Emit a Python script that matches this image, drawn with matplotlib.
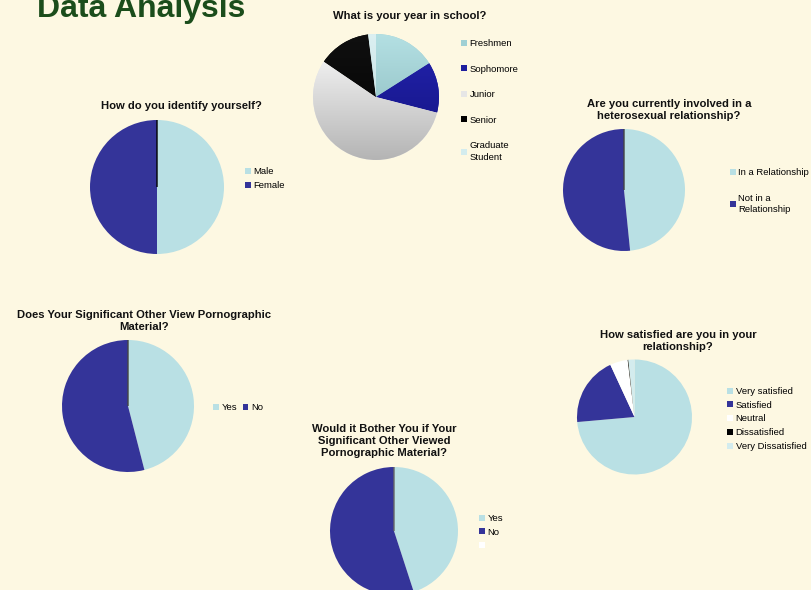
import matplotlib
matplotlib.use("Agg")
import matplotlib.pyplot as plt
import numpy as np
from matplotlib.patches import Patch
from matplotlib.colors import LinearSegmentedColormap

W, H = 811, 590
BG = "#fdf8e2"
TEAL = "#b9e0e4"
NAVY = "#343499"

# ---- data ----
gender_labels = ["Male", "Female"]
gender_values = [50, 50, 0]

year_labels = ["Freshmen", "Sophomore", "Junior", "Senior", "Graduate\nStudent"]
year_values = [16, 13, 55.5, 13.5, 2]

rel_labels = ["In a Relationship", "Not in a\nRelationship"]
rel_values = [48.4, 51.6, 0]

view_labels = ["Yes", "No"]
view_values = [46, 54, 0]

bother_labels = ["Yes", "No", ""]
bother_values = [45, 55, 0]

sat_labels = ["Very satisfied", "Satisfied", "Neutral", "Dissatisfied", "Very Dissatisfied"]
sat_values = [73.6, 19.5, 5.0, 0.2, 1.7]

# year-pie shading (top colour, bottom colour)
year_light = ["#b4e0e3", "#2424b0", "#ffffff", "#101010", "#dcf0f2"]
year_dark = ["#84b4b8", "#12127e", "#b4b4b4", "#000000", "#b8d8dc"]
year_legend_colors = ["#9fd0d4", "#1e1e9e", "#e6e6e6", "#000000", "#d3ecee"]

fig = plt.figure(figsize=(W / 100, H / 100), dpi=100)
fig.patch.set_facecolor(BG)
plt.rcParams['font.family'] = ['Liberation Sans', 'DejaVu Sans']


def fx(px):
    return px / W


def fy(py):
    return 1 - py / H


def add_pie(cx, cy, r, values, colors, edge=None):
    ax = fig.add_axes([fx(cx - r), fy(cy + r), 2 * r / W, 2 * r / H])
    wedges, _ = ax.pie(values, colors=colors, startangle=90, counterclock=False,
                       radius=1, normalize=True,
                       wedgeprops=dict(linewidth=0))
    if edge is not None:
        w = wedges[-1]
        w.set_edgecolor(edge)
        w.set_linewidth(1.0)
    ax.set_xlim(-1, 1)
    ax.set_ylim(-1, 1)
    ax.set_aspect('equal')
    ax.axis('off')
    return ax, wedges


def title(x, y, s):
    fig.text(fx(x), fy(y), s, ha='center', va='center', fontsize=8.1,
             fontweight='bold', color='#111111', linespacing=1.3)


def legend(x, y, labels, colors, spacing=0.9, ncol=1):
    handles = [Patch(facecolor=c, edgecolor='none') for c in colors]
    leg = fig.legend(handles, labels, loc='upper left', bbox_to_anchor=(fx(x), fy(y)),
                     frameon=False, fontsize=6.8, handlelength=0.6, handleheight=0.6,
                     handletextpad=0.3, labelspacing=spacing, ncol=ncol,
                     columnspacing=0.6, borderpad=0, borderaxespad=0)
    for t in leg.get_texts():
        t.set_linespacing(1.35)
    return leg


# Title
fig.text(fx(37), fy(17), "Data Analysis", ha='left', va='baseline',
         fontsize=23, fontweight='bold', color='#1b4d1b')

# Gender
add_pie(157, 187, 67, gender_values, [TEAL, NAVY, "#000000"], edge="#000000")
title(181, 106, "How do you identify yourself?")
legend(245, 167, gender_labels, [TEAL, NAVY], spacing=0.55)

# Year in school (shaded)
ax_y, year_wedges = add_pie(376, 97, 63, year_values, year_legend_colors)
grad = np.linspace(0, 1, 256).reshape(-1, 1)
for w, c1, c2 in zip(year_wedges, year_light, year_dark):
    cmap = LinearSegmentedColormap.from_list("g", [c1, c2])
    im = ax_y.imshow(grad, extent=[-1, 1, 1, -1], cmap=cmap, aspect='auto',
                     origin='lower', zorder=w.get_zorder() + 0.1)
    im.set_clip_path(w)
ax_y.set_xlim(-1, 1)
ax_y.set_ylim(-1, 1)
title(410, 16, "What is your year in school?")
legend(461, 39, year_labels, year_legend_colors, spacing=1.75)

# Relationship
add_pie(624, 190, 61, rel_values, [TEAL, NAVY, "#444444"], edge="#444444")
title(669, 110, "Are you currently involved in a\nheterosexual relationship?")
legend(730, 168, rel_labels, [TEAL, NAVY], spacing=1.75)

# Significant other view
add_pie(128, 406, 66, view_values, [TEAL, NAVY, "#444444"], edge="#444444")
title(144, 321, "Does Your Significant Other View Pornographic\nMaterial?")
legend(213, 403, view_labels, [TEAL, NAVY], ncol=2)

# Bother
add_pie(394, 531, 64, bother_values, [TEAL, NAVY, "#666666"], edge="#666666")
title(384, 441, "Would it Bother You if Your\nSignificant Other Viewed\nPornographic Material?")
legend(479, 514, bother_labels, [TEAL, NAVY, "#ffffff"], spacing=0.5)

# Satisfaction
add_pie(634.5, 417, 57.5, sat_values, [TEAL, NAVY, "#ffffff", "#000000", "#d3ecee"])
title(678, 341, "How satisfied are you in your\nrelationship?")
legend(727, 387, sat_labels, [TEAL, NAVY, "#ffffff", "#000000", "#d3ecee"], spacing=0.5)

fig.savefig("out.png", dpi=100, facecolor=BG)
